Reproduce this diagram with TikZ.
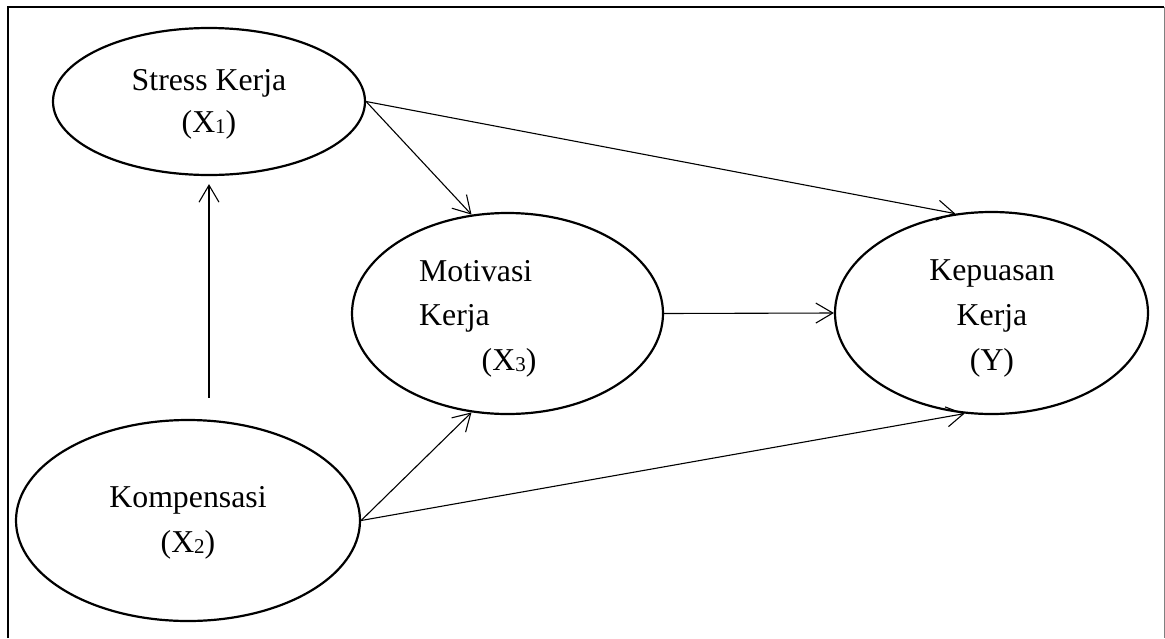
\documentclass[tikz,border=0pt]{standalone}
\usepackage{fontspec}
\setmainfont{Liberation Serif}
\usetikzlibrary{shapes.geometric,arrows.meta}
\newcommand\subx[1]{\raisebox{-1.5pt}{\fontsize{21}{21}\selectfont #1}}
\begin{document}
\begin{tikzpicture}[x=1pt,y=-1pt,
  lat/.style={ellipse, draw, line width=2.2pt, inner sep=0pt},
  lbl/.style={anchor=base, font=\fontsize{31.8}{38}\selectfont, inner sep=0pt},
  lblw/.style={lbl, anchor=base west},
  arr/.style={-{Straight Barb[length=17pt,width=20pt,line width=1.1pt]}, line width=1.1pt}]
\useasboundingbox (0,0) rectangle (1165,638);
\draw[line width=1.6pt] (8,638) -- (8,7) -- (1164,7);
\draw[line width=1pt, gray] (1164,7) -- (1164,638);

\node[lat, minimum width=312pt, minimum height=147pt] (stress) at (209,101.5) {};
\node[lat, minimum width=344pt, minimum height=201pt] (komp) at (188,520.5) {};
\node[lat, minimum width=311pt, minimum height=201pt] (mot) at (507.5,313.5) {};
\node[lat, minimum width=313pt, minimum height=202pt] (kep) at (991.5,313) {};

\node[lbl] (t1a) at (209,90) {Stress Kerja};
\node[lbl] (t1b) at (209,132) {(X\subx{1})};
\node[lbl] (t2a) at (188,507) {Kompensasi};
\node[lbl] (t2b) at (188,552) {(X\subx{2})};
\node[lblw] (t3a) at (419,281) {Motivasi};
\node[lblw] (t3b) at (419,325) {Kerja};
\node[lblw] (t3c) at (481.5,370) {(X\subx{3})};
\node[lbl] (t4a) at (992,280) {Kepuasan};
\node[lbl] (t4b) at (992,325) {Kerja};
\node[lbl] (t4c) at (992,370) {(Y)};

\draw[arr] (stress.east) -- (mot.110.6);
\draw[arr] (stress.east) -- (kep.110);
\draw[arr] (komp.east) -- (mot.250);
\draw[arr] (komp.east) -- (kep.255);
\draw[arr] (mot.east) -- (kep.west);
\draw[arr, shorten <=21pt, shorten >=8pt] (komp.north -| stress.south) -- (stress.south);
\end{tikzpicture}
\end{document}
